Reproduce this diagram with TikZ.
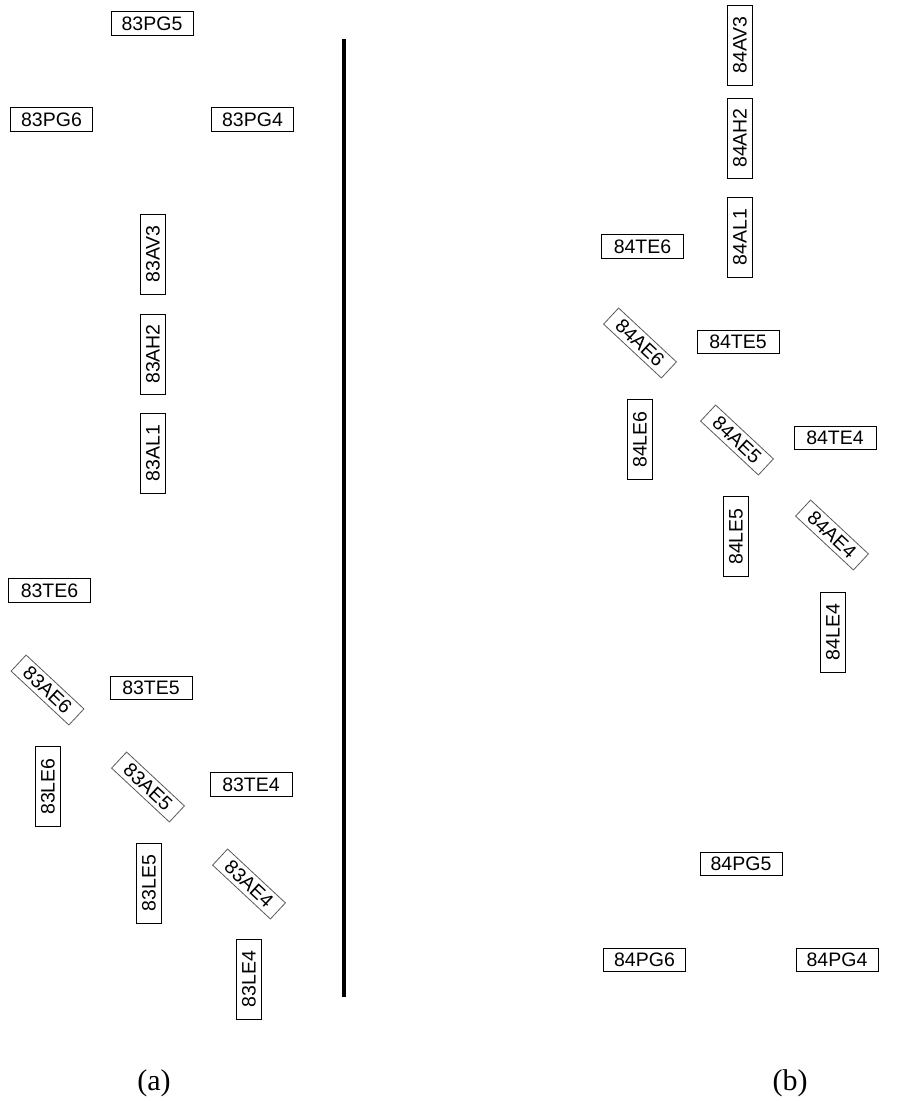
\documentclass[tikz,border=0pt]{standalone}
\usepackage{fontspec}
\setmainfont{Liberation Serif}
\newfontfamily\arialf{Liberation Sans}
\begin{document}
\begin{tikzpicture}[x={(1pt,0)},y={(0,-1pt)},
  tag/.style={draw=black,line width=0.8pt,inner sep=0pt,font=\arialf\fontsize{19.5}{21}\selectfont},
  htag/.style={tag,minimum width=82pt,minimum height=23.5pt},
  vtag/.style={tag,minimum width=80pt,minimum height=25pt,rotate=90},
  dtag/.style={tag,draw=black!65,minimum width=79pt,minimum height=22pt,rotate=-43},
  caption/.style={font=\fontsize{30}{33}\selectfont}]
\useasboundingbox (0,0) rectangle (915,1101);
% (a)
\node[htag] (p83g5) at (152,23.5) {83PG5};
\node[htag] (p83g6) at (51.5,119.5) {83PG6};
\node[htag] (p83g4) at (252.5,119.5) {83PG4};
\node[vtag] (a83v3) at (153,254) {83AV3};
\node[vtag] (a83h2) at (153,354) {83AH2};
\node[vtag] (a83l1) at (153,453) {83AL1};
\node[htag] (t83e6) at (49.5,590.5) {83TE6};
\node[htag] (t83e5) at (151,688) {83TE5};
\node[htag] (t83e4) at (251,784.5) {83TE4};
\node[dtag] (a83e6) at (47.5,690) {83AE6};
\node[dtag] (a83e5) at (148,787) {83AE5};
\node[dtag] (a83e4) at (249,884) {83AE4};
\node[vtag] (l83e6) at (48,786.5) {83LE6};
\node[vtag] (l83e5) at (149,883) {83LE5};
\node[vtag] (l83e4) at (249,979) {83LE4};
% divider
\coordinate (dtop) at (344,39);
\coordinate (dbot) at (344,997);
\draw[line width=4pt] (dtop) -- (dbot);
% (b)
\node[vtag] (a84v3) at (740,45) {84AV3};
\node[vtag] (a84h2) at (740,138) {84AH2};
\node[vtag] (a84l1) at (740,237) {84AL1};
\node[htag] (t84e6) at (642.5,246.5) {84TE6};
\node[htag] (t84e5) at (738,342) {84TE5};
\node[htag] (t84e4) at (835,438) {84TE4};
\node[dtag] (a84e6) at (640,343) {84AE6};
\node[dtag] (a84e5) at (737,440) {84AE5};
\node[dtag] (a84e4) at (832,535) {84AE4};
\node[vtag] (l84e6) at (640,439.5) {84LE6};
\node[vtag] (l84e5) at (736,536.5) {84LE5};
\node[vtag] (l84e4) at (833,632) {84LE4};
\node[htag] (p84g5) at (741,864) {84PG5};
\node[htag] (p84g6) at (644.5,960) {84PG6};
\node[htag] (p84g4) at (837,960) {84PG4};
% captions
\node[caption] (capa) at (154,1083) {(a)};
\node[caption] (capb) at (790,1083) {(b)};
\end{tikzpicture}
\end{document}
